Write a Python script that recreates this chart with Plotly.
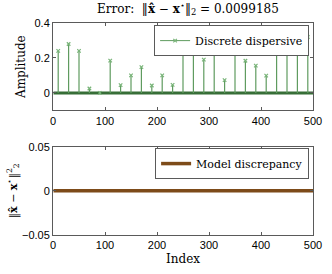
import plotly.graph_objects as go

# ---- data ----
n_points = 500
index = list(range(1, n_points + 1))
spike_idx = [10, 30, 50, 70, 90, 110, 130, 150, 170, 190, 210, 230, 250,
             270, 290, 310, 330, 350, 370, 390, 410, 430, 450, 470, 490]
spike_val = [0.24, 0.28, 0.24, 0.025, 0.0, 0.185, 0.044, 0.10, 0.147, 0.042,
             0.10, 0.046, 0.30, 0.227, 0.19, 0.33, 0.073, 0.31, 0.184, 0.156,
             0.099, 0.25, 0.34, 0.29, 0.32]
discrepancy = [0.0] * n_points
error_value = "0.0099185"

GREEN = "rgb(95,155,95)"
GREEN_LIGHT = "rgb(120,180,120)"
GREEN_DARK = "rgb(55,110,55)"
BROWN = "rgb(125,75,25)"
SERIF = "DejaVu Serif"
SANS = "Liberation Sans"

fig = go.Figure()

# zero baseline band (all 500 stems with zero amplitude)
fig.add_trace(go.Scatter(
    x=index, y=[0.0] * n_points, mode="lines",
    line=dict(color=GREEN_DARK, width=3), showlegend=False,
    xaxis="x", yaxis="y", hoverinfo="skip"))

# stems via error bars down to zero
fig.add_trace(go.Scatter(
    x=spike_idx, y=spike_val, mode="markers",
    marker=dict(symbol="x-thin", size=3.5, color=GREEN_LIGHT,
                line=dict(color=GREEN_LIGHT, width=1.2)),
    error_y=dict(type="data", symmetric=False,
                 array=[0] * len(spike_val), arrayminus=spike_val,
                 color=GREEN, thickness=1.2, width=0),
    showlegend=False, xaxis="x", yaxis="y"))

# legend entry for top plot
fig.add_trace(go.Scatter(
    x=[None], y=[None], mode="lines+markers", name="Discrete dispersive",
    line=dict(color=GREEN, width=1),
    marker=dict(symbol="x-thin", size=3.5, color=GREEN_LIGHT,
                line=dict(color=GREEN_LIGHT, width=1.2)),
    xaxis="x", yaxis="y", legend="legend"))

# bottom plot: model discrepancy
fig.add_trace(go.Scatter(
    x=index, y=discrepancy, mode="lines", name="Model discrepancy",
    line=dict(color=BROWN, width=3.5),
    xaxis="x2", yaxis="y2", legend="legend2"))

axis_common = dict(
    showgrid=False, zeroline=False, showline=True, mirror="ticks",
    linecolor="rgb(90,90,90)", linewidth=1, ticks="inside", ticklen=3,
    tickcolor="rgb(90,90,90)",
    tickfont=dict(family=SANS, size=11, color="black"))

fig.update_layout(
    width=332, height=274,
    margin=dict(l=53, r=10, t=23, b=27),
    paper_bgcolor="white", plot_bgcolor="white",
    title=dict(
        text="Error:  ‖<b>x̂</b> − <b>x</b><sup>⋆</sup>‖<sub>2</sub> = " + error_value,
        font=dict(family=SERIF, size=12, color="black"),
        x=0.566, xanchor="center", y=0.968, yanchor="middle"),
    xaxis=dict(domain=[0, 1], range=[0, 500], dtick=100, anchor="y", **axis_common),
    yaxis=dict(domain=[0.588, 1], range=[-0.1, 0.4], tick0=0, dtick=0.2,
               anchor="x", **axis_common,
               title=dict(text="Amplitude", font=dict(family=SERIF, size=12, color="black"),
                          standoff=6)),
    xaxis2=dict(domain=[0, 1], range=[0, 500], dtick=100, anchor="y2", **axis_common,
                title=dict(text="Index", font=dict(family=SERIF, size=12, color="black"),
                           standoff=4)),
    yaxis2=dict(domain=[0, 0.4166], range=[-0.05, 0.05], dtick=0.05,
                anchor="x2", **axis_common,
                title=dict(text="‖<b>x̂</b> − <b>x</b><sup>⋆</sup>‖<sup>2</sup><sub>2</sub>",
                           font=dict(family=SERIF, size=11, color="black"),
                           standoff=2)),
    legend=dict(x=0.985, y=0.99, xanchor="right", yanchor="top",
                bgcolor="white", bordercolor="rgb(90,90,90)", borderwidth=1,
                font=dict(family=SERIF, size=11, color="black"),
                itemwidth=30, tracegroupgap=0),
    legend2=dict(x=0.985, y=0.41, xanchor="right", yanchor="top",
                 bgcolor="white", bordercolor="rgb(90,90,90)", borderwidth=1,
                 font=dict(family=SERIF, size=11, color="black"),
                 itemwidth=30, tracegroupgap=0),
)

fig.write_html("out.html",
               config={"displayModeBar": False},
               post_script="document.body.style.margin='0';document.body.style.overflow='hidden';")
